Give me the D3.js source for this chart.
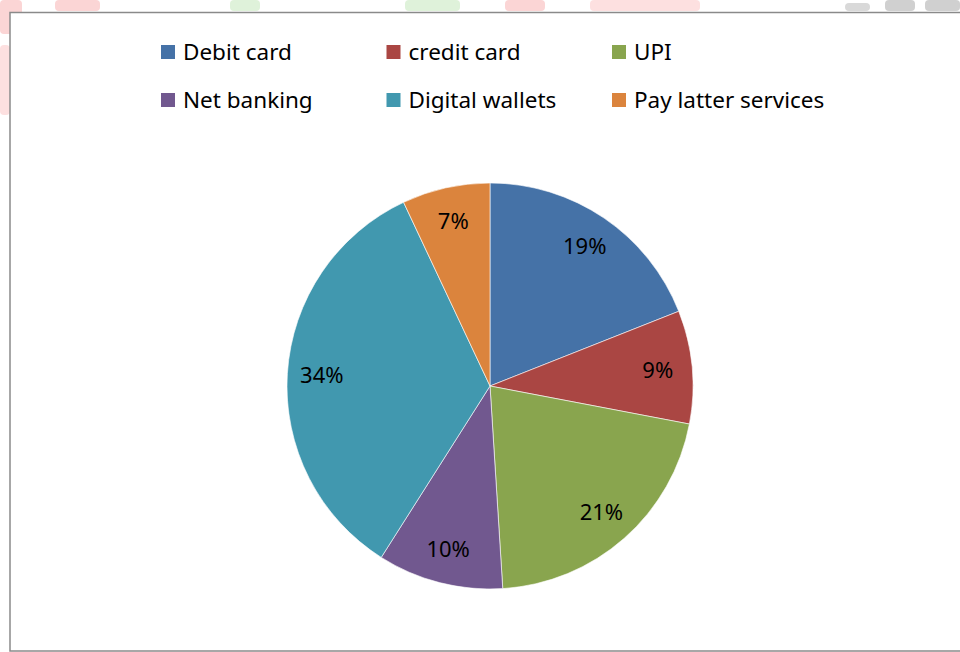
<!DOCTYPE html>
<html>
<head>
<meta charset="utf-8">
<script src="https://cdn.jsdelivr.net/npm/d3@7"></script>
<style>
  body { margin: 0; background: #fff; }
  text { font-family: "Noto Sans", sans-serif; fill: #000; }
</style>
</head>
<body>
<svg id="chart" width="960" height="652"></svg>
<script>
// payment modes and their shares (%)
const categories = ["Debit card", "credit card", "UPI", "Net banking", "Digital wallets", "Pay latter services"]
const shares = [19, 9, 21, 10, 34, 7]
const colors = ["#4572A7", "#AA4643", "#89A54E", "#71588F", "#4198AF", "#DB843D"]

const svg = d3.select("#chart")

// faint watermark blobs peeking out around the frame
const blobs = [
  { x: 0, y: 0, w: 22, h: 34, c: "#fbd5d5" },
  { x: 0, y: 45, w: 10, h: 70, c: "#fde0e0" },
  { x: 55, y: 0, w: 45, h: 11, c: "#fbd5d5" },
  { x: 230, y: 0, w: 30, h: 11, c: "#dff2da" },
  { x: 405, y: 0, w: 55, h: 11, c: "#dff2da" },
  { x: 505, y: 0, w: 40, h: 11, c: "#fbd5d5" },
  { x: 590, y: 0, w: 110, h: 11, c: "#fde0e0" },
  { x: 845, y: 3, w: 25, h: 8, c: "#d9d9d9" },
  { x: 885, y: 0, w: 30, h: 11, c: "#d0d0d0" },
  { x: 925, y: 0, w: 35, h: 11, c: "#d0d0d0" }
]
svg.append("g").selectAll("rect")
  .data(blobs)
  .join("rect")
  .attr("x", d => d.x).attr("y", d => d.y)
  .attr("width", d => d.w).attr("height", d => d.h)
  .attr("rx", 4)
  .style("fill", d => d.c)

// chart area frame
svg.append("rect")
  .attr("x", 10).attr("y", 12.5)
  .attr("width", 960).attr("height", 638.5)
  .style("fill", "#fff")
  .style("stroke", "#8a8a8a")
  .style("stroke-width", 1.5)

// legend: 3 columns x 2 rows
const color = d3.scaleOrdinal().domain(categories).range(colors)
const colX = d3.scalePoint().domain([0, 1, 2]).range([161, 612])
const rowY = d3.scalePoint().domain([0, 1]).range([45, 93])

const legend = svg.append("g")
  .selectAll("g")
  .data(categories)
  .join("g")
  .attr("transform", (d, i) => `translate(${colX(i % 3)},${rowY(Math.floor(i / 3))})`)

legend.append("rect")
  .attr("width", 14).attr("height", 14)
  .style("fill", d => color(d))

legend.append("text")
  .attr("x", 22).attr("y", 15)
  .style("font-size", "22.5px")
  .text(d => d)

// pie
const cx = 490, cy = 386, radius = 203
const pie = d3.pie().sort(null).value(d => d)
const arc = d3.arc().innerRadius(0).outerRadius(radius)
const labelArc = d3.arc().innerRadius(radius * 0.83).outerRadius(radius * 0.83)

const g = svg.append("g").attr("transform", `translate(${cx},${cy})`)
const slices = pie(shares)

g.selectAll("path")
  .data(slices)
  .join("path")
  .attr("d", arc)
  .style("fill", (d, i) => colors[i])
  .style("stroke", "#fff")
  .style("stroke-width", 0.6)

g.selectAll("text")
  .data(slices)
  .join("text")
  .attr("transform", d => `translate(${labelArc.centroid(d)})`)
  .attr("text-anchor", "middle")
  .attr("dy", "0.35em")
  .style("font-size", "22px")
  .text(d => d.data + "%")
</script>
</body>
</html>
